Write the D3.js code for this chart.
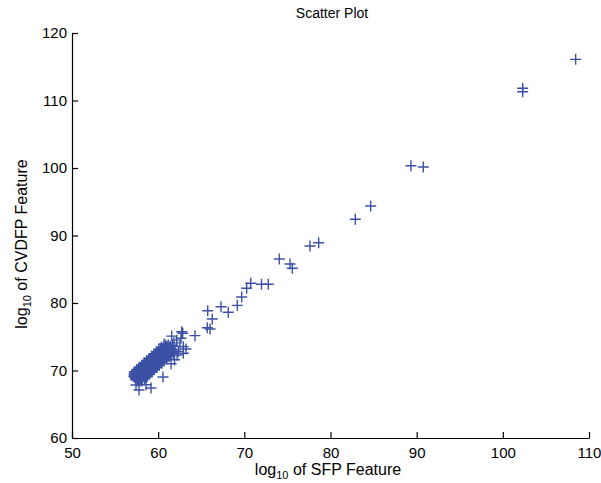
<!DOCTYPE html>
<html>
<head>
<meta charset="utf-8">
<script src="https://cdn.jsdelivr.net/npm/d3@7"></script>
<style>
  html, body { margin: 0; padding: 0; background: #fff; }
  svg text { font-family: "Liberation Sans", Arial, sans-serif; fill: #000; }
</style>
</head>
<body>
<svg id="chart" width="601" height="483"></svg>
<script>
// ---- data ----
const title = "Scatter Plot";
const xTicks = [50, 60, 70, 80, 90, 100, 110];
const yTicks = [60, 70, 80, 90, 100, 110, 120];

// dense cluster (first layer)
const clusterSFP = [
  57.18, 57.40, 57.62,
  57.24, 57.46, 57.69, 57.91, 58.14,
  57.52, 57.75, 57.97, 58.20, 58.42,
  57.81, 58.03, 58.26, 58.48, 58.71,
  58.09, 58.32, 58.54, 58.77, 58.99,
  58.38, 58.60, 58.83, 59.05, 59.28,
  58.66, 58.89, 59.11, 59.34, 59.56,
  58.95, 59.17, 59.40, 59.62, 59.85,
  59.23, 59.46, 59.68, 59.91, 60.13,
  59.52, 59.74, 59.97, 60.19, 60.42,
  59.80, 60.03, 60.25, 60.48, 60.70,
  60.09, 60.31, 60.54, 60.76, 60.99,
  60.37, 60.60, 60.82, 61.05, 61.27,
  60.88, 61.11, 61.33,
  61.17, 61.39, 61.62, 61.68
];
const clusterCVDFP = [
  69.14, 68.80, 68.46,
  69.81, 69.47, 69.13, 68.79, 68.45,
  70.14, 69.80, 69.46, 69.12, 68.78,
  70.47, 70.13, 69.79, 69.45, 69.11,
  70.80, 70.46, 70.12, 69.78, 69.44,
  71.13, 70.79, 70.45, 70.11, 69.77,
  71.46, 71.12, 70.78, 70.44, 70.10,
  71.79, 71.45, 71.11, 70.77, 70.43,
  72.12, 71.78, 71.44, 71.10, 70.76,
  72.45, 72.11, 71.77, 71.43, 71.09,
  72.78, 72.44, 72.10, 71.76, 71.42,
  73.11, 72.77, 72.43, 72.09, 71.75,
  73.44, 73.10, 72.76, 72.42, 72.08,
  73.43, 73.09, 72.75,
  73.76, 73.42, 73.08, 73.75
];

// dense cluster (second layer)
const clusterSFP2 = [
  57.20, 57.43, 57.65, 57.88,
  57.49, 57.72, 57.94, 58.17,
  57.77, 58.00, 58.22, 58.45,
  58.06, 58.29, 58.51, 58.74,
  58.34, 58.57, 58.79, 59.02,
  58.63, 58.86, 59.08, 59.31,
  58.91, 59.14, 59.36, 59.59,
  59.20, 59.43, 59.65, 59.88,
  59.48, 59.71, 59.93, 60.16,
  59.77, 60.00, 60.22, 60.45,
  60.05, 60.28, 60.50, 60.73,
  60.34, 60.57, 60.79, 61.02,
  60.62, 60.85, 61.07, 61.30
];
const clusterCVDFP2 = [
  69.48, 69.14, 68.80, 68.46,
  69.81, 69.47, 69.13, 68.79,
  70.14, 69.80, 69.46, 69.12,
  70.47, 70.13, 69.79, 69.45,
  70.80, 70.46, 70.12, 69.78,
  71.13, 70.79, 70.45, 70.11,
  71.46, 71.12, 70.78, 70.44,
  71.79, 71.45, 71.11, 70.77,
  72.12, 71.78, 71.44, 71.10,
  72.45, 72.11, 71.77, 71.43,
  72.78, 72.44, 72.10, 71.76,
  73.11, 72.77, 72.43, 72.09,
  73.44, 73.10, 72.76, 72.42
];

// dense cluster (third layer)
const clusterSFP3 = [
  57.42, 57.65, 57.87, 58.10,
  57.99, 58.22, 58.44, 58.67,
  58.56, 58.79, 59.01, 59.24,
  59.13, 59.36, 59.58, 59.81,
  59.70, 59.93, 60.15, 60.38,
  60.27, 60.50, 60.72, 60.95,
  60.84, 61.07, 61.29, 61.52,
  58.00, 58.90, 59.70, 60.40, 59.00, 58.30, 57.60, 61.00, 60.10
];
const clusterCVDFP3 = [
  69.78, 69.44, 69.10, 68.76,
  70.44, 70.10, 69.76, 69.42,
  71.10, 70.76, 70.42, 70.08,
  71.76, 71.42, 71.08, 70.74,
  72.42, 72.08, 71.74, 71.40,
  73.08, 72.74, 72.40, 72.06,
  73.74, 73.40, 73.06, 72.72,
  69.00, 70.00, 70.90, 71.90, 71.50, 70.80, 68.90, 73.30, 72.70
];

// dense cluster (fourth layer, rows in between)
const clusterSFP4 = [
  57.40, 57.80,
  57.30, 57.70, 58.10, 58.50,
  57.25, 57.50, 57.90, 58.30, 58.70,
  57.30, 57.70, 58.10, 58.50, 58.90,
  57.50, 57.90, 58.30, 58.70, 59.10,
  57.80, 58.20, 58.60, 59.00, 59.40,
  58.10, 58.50, 58.90, 59.30, 59.70,
  58.40, 58.80, 59.20, 59.60, 60.00,
  58.70, 59.10, 59.50, 59.90, 60.30,
  59.00, 59.40, 59.80, 60.20, 60.60,
  59.30, 59.70, 60.10, 60.50, 60.90,
  59.60, 60.00, 60.40, 60.80, 61.20,
  59.90, 60.30, 60.70, 61.10, 61.40,
  60.30, 60.70, 61.10, 61.40,
  60.70, 61.10, 61.50,
  61.00, 61.40
];
const clusterCVDFP4 = [
  68.63, 68.63,
  68.97, 68.97, 68.97, 68.97,
  69.30, 69.30, 69.30, 69.30, 69.30,
  69.63, 69.63, 69.63, 69.63, 69.63,
  69.96, 69.96, 69.96, 69.96, 69.96,
  70.29, 70.29, 70.29, 70.29, 70.29,
  70.62, 70.62, 70.62, 70.62, 70.62,
  70.95, 70.95, 70.95, 70.95, 70.95,
  71.28, 71.28, 71.28, 71.28, 71.28,
  71.61, 71.61, 71.61, 71.61, 71.61,
  71.94, 71.94, 71.94, 71.94, 71.94,
  72.27, 72.27, 72.27, 72.27, 72.27,
  72.60, 72.60, 72.60, 72.60, 72.60,
  72.93, 72.93, 72.93, 72.93,
  73.26, 73.26, 73.26,
  73.59, 73.59
];

// sparse points around and above the cluster
const sparseSFP = [
  57.78, 59.17, 60.56, 57.43, 58.60,
  60.68, 61.57, 62.15, 62.53, 63.23, 62.85, 61.84, 62.65, 62.92,
  62.34, 62.92, 61.76, 61.90, 62.20, 61.50, 62.73, 64.27,
  65.70, 66.02, 66.28, 65.75, 67.29, 68.14, 69.18, 69.69,
  70.27, 70.74, 71.99, 72.78,
  74.06, 75.30, 75.57, 77.62, 78.63,
  82.88, 84.66, 89.34, 90.77, 102.30, 102.30, 108.45
];
const sparseCVDFP = [
  67.11, 67.41, 69.04, 67.85, 67.90,
  73.93, 75.10, 74.50, 73.58, 73.19, 75.51, 74.10, 74.77, 73.53,
  72.79, 72.55, 72.55, 71.60, 72.30, 71.00, 75.75, 75.16,
  76.34, 76.15, 77.63, 78.86, 79.45, 78.62, 79.65, 80.90,
  82.18, 82.92, 82.77, 82.77,
  86.52, 85.78, 85.14, 88.44, 88.93,
  92.40, 94.37, 100.34, 100.15, 111.81, 111.30, 116.10
];

// ---- drawing ----
const svg = d3.select("#chart");
const mLeft = 72, mRight = 589, mTop = 33, mBottom = 438;
const x = d3.scaleLinear().domain([50, 110]).range([mLeft, mRight]);
const y = d3.scaleLinear().domain([60, 120]).range([mBottom, mTop]);

const pair = (xs, ys) => xs.map((v, i) => [v, ys[i]]);
const pts = pair(clusterSFP, clusterCVDFP)
  .concat(pair(clusterSFP2, clusterCVDFP2))
  .concat(pair(clusterSFP3, clusterCVDFP3))
  .concat(pair(clusterSFP4, clusterCVDFP4))
  .concat(pair(sparseSFP, sparseCVDFP));

const color = "#3c51a6";
const s = 5.5;
svg.append("g").selectAll("path").data(pts).join("path")
  .attr("d", d => {
    const cx = x(d[0]), cy = y(d[1]);
    return `M${cx - s},${cy}H${cx + s}M${cx},${cy - s}V${cy + s}`;
  })
  .attr("stroke", color)
  .attr("stroke-width", 1.4)
  .attr("fill", "none");

// axes
const xAxis = d3.axisBottom(x).tickValues(xTicks).tickSizeInner(-6).tickSizeOuter(0).tickPadding(9);
const yAxis = d3.axisLeft(y).tickValues(yTicks).tickSizeInner(-6).tickSizeOuter(0).tickPadding(5);

const gx = svg.append("g").attr("transform", `translate(0,${mBottom})`).call(xAxis);
const gy = svg.append("g").attr("transform", `translate(${mLeft},0)`).call(yAxis);
[gx, gy].forEach(g => {
  g.select(".domain").attr("stroke", "#000").attr("stroke-width", 1.2);
  g.selectAll(".tick line").attr("stroke", "#000").attr("stroke-width", 1.2);
  g.selectAll(".tick text").attr("font-size", 15).attr("fill", "#000")
    .attr("font-family", "'Liberation Sans', Arial, sans-serif");
});

// title
svg.append("text").attr("x", 332).attr("y", 18).attr("text-anchor", "middle")
  .attr("font-size", 14).text(title);

// x label
const xl = svg.append("text").attr("x", 328).attr("y", 475).attr("text-anchor", "middle")
  .attr("font-size", 16);
xl.append("tspan").text("log");
xl.append("tspan").attr("font-size", 11).attr("dy", 4).text("10");
xl.append("tspan").attr("dy", -4).text(" of SFP Feature");

// y label
const yl = svg.append("text").attr("transform", "translate(27,244) rotate(-90)")
  .attr("text-anchor", "middle").attr("font-size", 16);
yl.append("tspan").text("log");
yl.append("tspan").attr("font-size", 11).attr("dy", 4).text("10");
yl.append("tspan").attr("dy", -4).text(" of CVDFP Feature");
</script>
</body>
</html>
